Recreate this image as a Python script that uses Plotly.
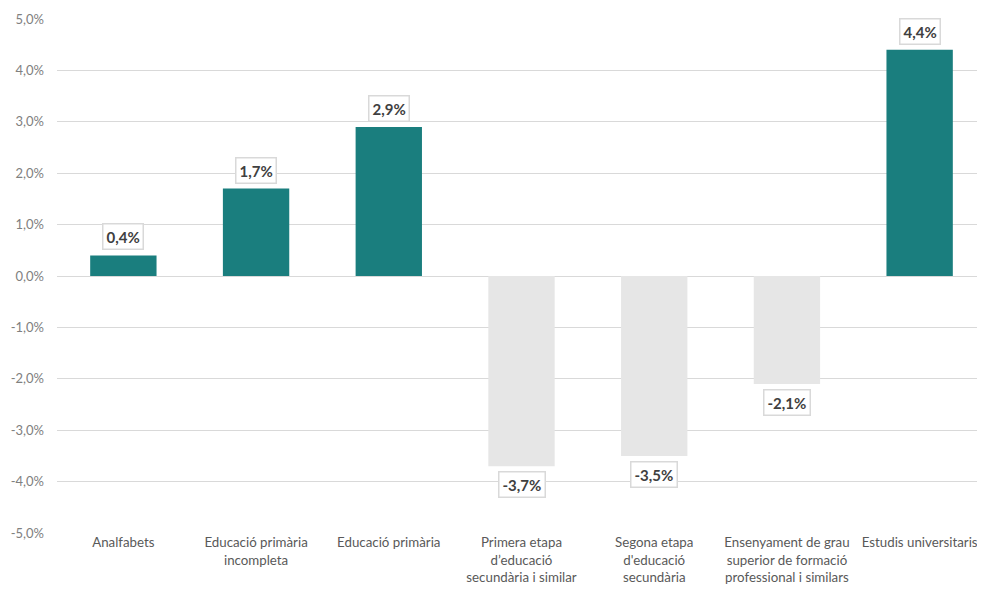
import plotly.graph_objects as go

categories = [
    "Analfabets",
    "Educació primària<br>incompleta",
    "Educació primària",
    "Primera etapa<br>d’educació<br>secundària i similar",
    "Segona etapa<br>d'educació<br>secundària",
    "Ensenyament de grau<br>superior de formació<br>professional i similars",
    "Estudis universitaris",
]
values = [0.4, 1.7, 2.9, -3.7, -3.5, -2.1, 4.4]
tick_vals = [5, 4, 3, 2, 1, 0, -1, -2, -3, -4, -5]
tick_text = ["5,0%", "4,0%", "3,0%", "2,0%", "1,0%", "0,0%",
             "-1,0%", "-2,0%", "-3,0%", "-4,0%", "-5,0%"]

POS = "#1A7E7E"
NEG = "#E6E6E6"
FONT = "Lato"

def fmt(v):
    return f"{v:.1f}".replace(".", ",") + "%"

fig = go.Figure()
fig.add_trace(go.Bar(
    x=categories, y=values, width=0.5,
    marker=dict(color=[POS if v >= 0 else NEG for v in values], line=dict(width=0)),
    hoverinfo="skip",
))

for c, v in zip(categories, values):
    fig.add_annotation(
        x=c, y=v, text="<b>" + fmt(v) + "</b>", showarrow=False,
        yanchor="bottom" if v >= 0 else "top",
        yshift=5 if v >= 0 else -5,
        font=dict(family=FONT, size=15, color="#404040"),
        bgcolor="white", bordercolor="#D9D9D9", borderwidth=1.5, borderpad=3,
    )

# page body has an 8px margin: figure is offset by 8px, so compensate
fig.update_layout(
    width=978, height=588,
    margin=dict(l=49, r=0, t=11, b=63),
    paper_bgcolor="white", plot_bgcolor="white",
    showlegend=False,
    bargap=0.5,
    font=dict(family=FONT, size=13, color="#595959"),
)
fig.update_xaxes(
    range=[-0.5, 6.5], showgrid=False, showline=False, zeroline=False,
    ticks="", tickfont=dict(family=FONT, size=13.3, color="#595959"),
    tickangle=0, automargin=False,
)
fig.update_yaxes(
    range=[-5, 5], tickvals=tick_vals, ticktext=tick_text,
    showgrid=True, gridcolor="#D9D9D9", gridwidth=1,
    zeroline=True, zerolinecolor="#D9D9D9", zerolinewidth=1,
    showline=False, ticks="", ticklabelstandoff=12, automargin=False,
    tickfont=dict(family=FONT, size=13, color="#808080"),
)

fig.write_html("out.html")
